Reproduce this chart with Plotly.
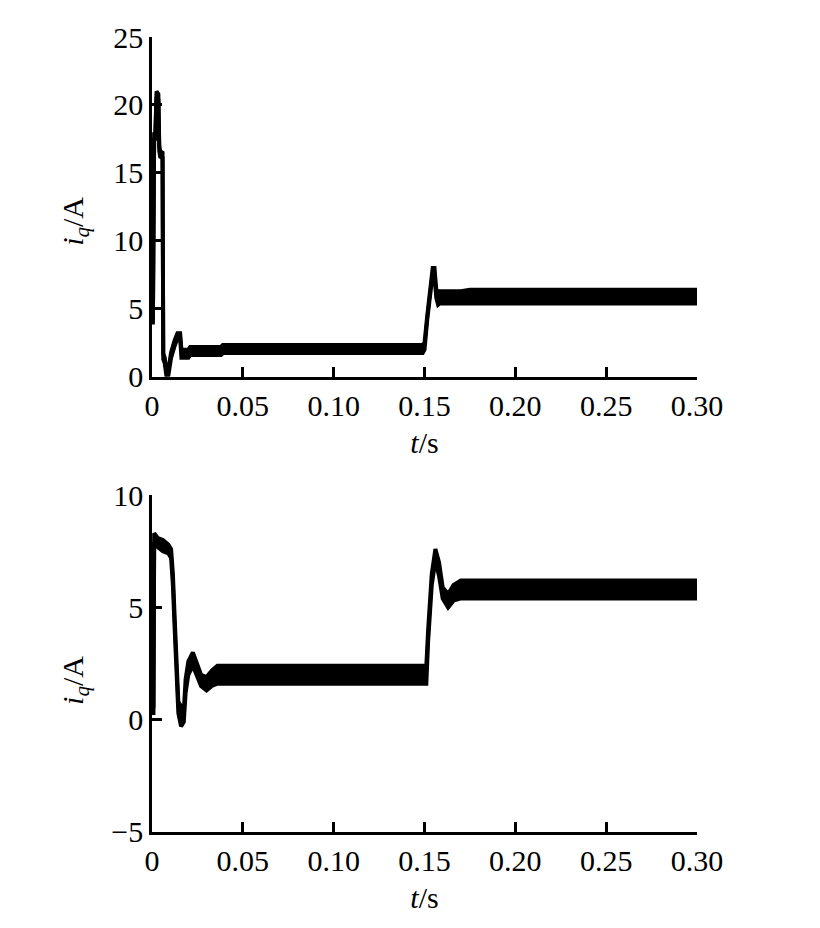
import plotly.graph_objects as go

# upper panel: i_q band (upper / lower envelope)
t_top = [0.0, 0.0005, 0.0012, 0.0018, 0.0025, 0.0035, 0.0040, 0.0045, 0.0058, 0.0062,
         0.0070, 0.0080, 0.0090, 0.0105, 0.0125, 0.0140, 0.0155, 0.0162, 0.0200, 0.0210,
         0.0380, 0.0390, 0.1490, 0.1500, 0.1515, 0.1530, 0.1545, 0.1555, 0.1565, 0.1575,
         0.1585, 0.1600, 0.1700, 0.1750, 0.3000]
hi_top = [4.3, 4.3, 18.0, 17.8, 21.0, 20.8, 17.0, 16.6, 16.5, 1.7,
          1.4, 0.3, 0.5, 1.8, 2.7, 3.2, 3.2, 2.0, 2.0, 2.2,
          2.2, 2.35, 2.35, 2.5, 4.5, 6.5, 8.0, 8.0, 6.4, 6.3,
          6.3, 6.3, 6.3, 6.4, 6.4]
lo_top = [4.0, 4.0, 17.6, 17.4, 20.6, 20.4, 16.6, 16.2, 16.1, 1.3,
          1.0, 0.0, 0.1, 1.4, 2.3, 2.8, 2.8, 1.4, 1.4, 1.6,
          1.6, 1.75, 1.75, 2.0, 4.2, 6.0, 7.6, 7.4, 5.8, 5.3,
          5.4, 5.4, 5.4, 5.4, 5.4]

# lower panel
t_bot = [0.0, 0.0008, 0.0012, 0.0030, 0.0060, 0.0090, 0.0105, 0.0115, 0.0125, 0.0135,
         0.0145, 0.0160, 0.0175, 0.0185, 0.0200, 0.0225, 0.0245, 0.0270, 0.0300, 0.0330,
         0.0360, 0.1510, 0.1520, 0.1540, 0.1560, 0.1580, 0.1600, 0.1630, 0.1660, 0.1700,
         0.1730, 0.3000]
hi_bot = [0.6, 0.6, 8.3, 8.1, 8.0, 7.8, 7.6, 6.5, 4.5, 2.5,
          0.8, 0.6, 0.4, 1.8, 2.6, 3.0, 2.6, 2.0, 1.9, 2.2,
          2.4, 2.4, 4.0, 6.5, 7.6, 7.0, 5.9, 5.6, 6.0, 6.2,
          6.2, 6.2]
lo_bot = [0.3, 0.3, 7.9, 7.7, 7.5, 7.4, 7.2, 6.0, 4.0, 2.0,
          0.3, -0.3, -0.1, 1.2, 2.0, 2.4, 2.0, 1.5, 1.3, 1.5,
          1.6, 1.6, 3.5, 6.0, 7.1, 6.4, 5.4, 5.0, 5.3, 5.4,
          5.4, 5.4]

x_ticks = [0, 0.05, 0.10, 0.15, 0.20, 0.25, 0.30]
x_labels = ["0", "0.05", "0.10", "0.15", "0.20", "0.25", "0.30"]
y_ticks_top = [0, 5, 10, 15, 20, 25]
y_ticks_bot = [-5, 0, 5, 10]

FONT = dict(family="Liberation Serif, Times New Roman, serif", size=30, color="black")
LINE = dict(color="black", width=4)

fig = go.Figure()
for t, lo, hi, xa, ya in [(t_top, lo_top, hi_top, "x", "y"), (t_bot, lo_bot, hi_bot, "x2", "y2")]:
    fig.add_scatter(x=t, y=lo, mode="lines", line=LINE, xaxis=xa, yaxis=ya, showlegend=False)
    fig.add_scatter(x=t, y=hi, mode="lines", line=LINE, fill="tonexty", fillcolor="black",
                    xaxis=xa, yaxis=ya, showlegend=False)

axis_common = dict(showline=True, linecolor="black", linewidth=2.5, ticks="inside", ticklen=10,
                   tickwidth=2.5, tickcolor="black", showgrid=False, zeroline=False, tickfont=FONT)

# page body adds an 8px offset, so the figure is 8px smaller with margins shifted
fig.update_layout(
    width=812, height=920,
    margin=dict(l=144, r=123, t=24, b=96),
    paper_bgcolor="white", plot_bgcolor="white",
    font=FONT,
    xaxis=dict(axis_common, domain=[0, 1], anchor="y", range=[0, 0.30], tickvals=x_ticks,
               ticktext=x_labels, title=dict(text="<i>t</i>/s", font=FONT, standoff=12)),
    yaxis=dict(axis_common, domain=[0.5725, 1], anchor="x", range=[0, 25], tickvals=y_ticks_top),
    xaxis2=dict(axis_common, domain=[0, 1], anchor="y2", range=[0, 0.30], tickvals=x_ticks,
                ticktext=x_labels, title=dict(text="<i>t</i>/s", font=FONT, standoff=12)),
    yaxis2=dict(axis_common, domain=[0, 0.42375], anchor="x2", range=[-5, 10], tickvals=y_ticks_bot),
)

ytitle = "<i>i</i><sub><i>q</i></sub>/A"
fig.add_annotation(text=ytitle, xref="paper", yref="paper", x=(75 - 152) / 545, y=(832 - 218) / 800,
                   textangle=-90, showarrow=False, font=FONT, xanchor="center", yanchor="middle")
fig.add_annotation(text=ytitle, xref="paper", yref="paper", x=(75 - 152) / 545, y=(832 - 680) / 800,
                   textangle=-90, showarrow=False, font=FONT, xanchor="center", yanchor="middle")

fig.write_html("out.html")
